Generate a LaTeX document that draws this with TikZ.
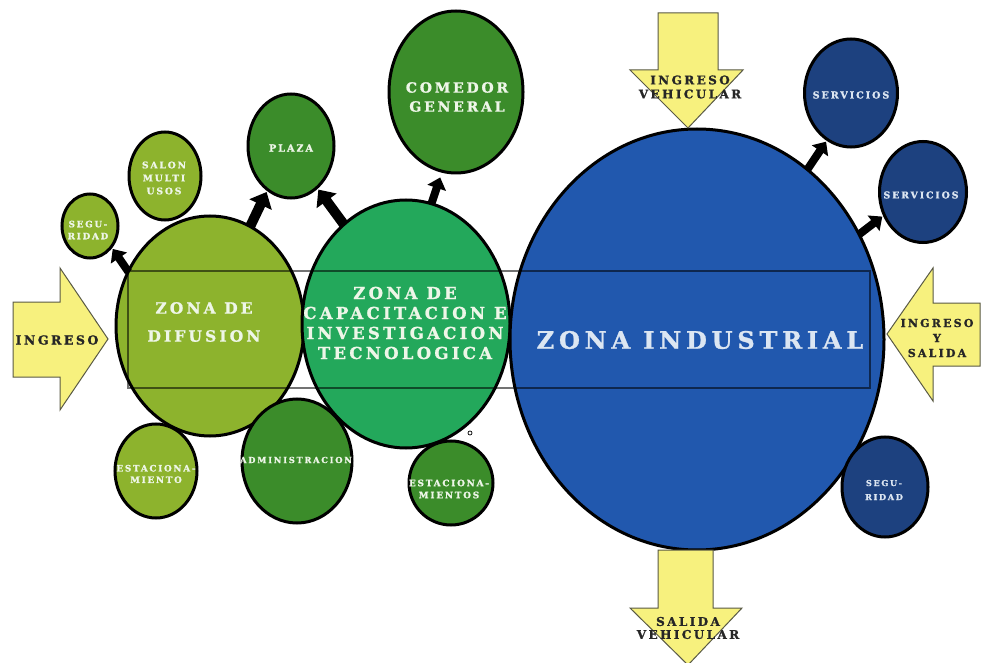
\documentclass[tikz,border=0pt]{standalone}
\usepackage{fontspec}
\setmainfont{DejaVu Serif}
\newfontfamily\zf{DejaVu Serif Bold}[LetterSpace=20, FakeBold=1.2]
\usetikzlibrary{arrows.meta,shapes.geometric}
\definecolor{lgreen}{HTML}{8DB32D}
\definecolor{mgreen}{HTML}{23A85B}
\definecolor{dgreen}{HTML}{3B8C2A}
\definecolor{blueI}{HTML}{2158AE}
\definecolor{navy}{HTML}{1D417F}
\definecolor{yel}{HTML}{F7F17E}
\definecolor{yelline}{HTML}{5A5A45}
\definecolor{txtw}{HTML}{EEF6E8}
\definecolor{txtb}{HTML}{DCE6F2}
\begin{document}
\begin{tikzpicture}[x=1pt,y=-1pt,
  zone/.style={ellipse, draw=black, line width=3pt, inner sep=0pt},
  lbl/.style={text=txtw, align=center, inner sep=0pt},
  albl/.style={text=black!85, align=center, inner sep=0pt},
  blk/.style={line width=10pt, -{Triangle[width=24pt,length=14pt]}, shorten >=1pt, shorten <=-2pt},
  sblk/.style={line width=8pt, -{Triangle[width=19pt,length=11pt]}, shorten >=1pt, shorten <=-2pt},
  yarrow/.style={fill=yel, draw=yelline, line width=1pt, line join=miter}
]
\useasboundingbox (0,0) rectangle (983,663);
\fill[white] (0,0) rectangle (983,663);

% main zones
\node[zone, fill=lgreen, minimum width=188pt, minimum height=220pt] (dif) at (210,326) {};
\node[zone, fill=mgreen, minimum width=208pt, minimum height=248pt] (cap) at (406,324) {};
\node[zone, fill=blueI, minimum width=374pt, minimum height=421pt] (ind) at (697,339.5) {};

% band
\node[draw=black, draw opacity=0.55, line width=2.5pt, minimum width=742pt, minimum height=117pt, inner sep=0pt] (band) at (499,329.5) {};

% satellites
\node[zone, fill=lgreen, minimum width=56pt, minimum height=64pt] (seg1) at (90,226) {};
\node[zone, fill=lgreen, minimum width=72pt, minimum height=88pt] (salon) at (165,176) {};
\node[zone, fill=dgreen, minimum width=86pt, minimum height=104pt] (plaza) at (291,146) {};
\node[zone, fill=dgreen, minimum width=134pt, minimum height=162pt] (comedor) at (456,92) {};
\node[zone, fill=dgreen, minimum width=110pt, minimum height=124pt] (adm) at (297,461) {};
\node[zone, fill=lgreen, minimum width=82pt, minimum height=94pt] (est1) at (156,471) {};
\node[zone, fill=dgreen, minimum width=84pt, minimum height=84pt] (est2) at (451,483) {};
\node[zone, fill=navy, minimum width=93pt, minimum height=108pt] (serv1) at (851,93) {};
\node[zone, fill=navy, minimum width=87pt, minimum height=101pt] (serv2) at (923,192) {};
\node[zone, fill=navy, minimum width=86pt, minimum height=100pt] (seg2) at (885,487) {};

\node[circle, draw=black, line width=0.7pt, inner sep=0pt, minimum size=4pt] (dot) at (470,433) {};

% black arrows
\draw[sblk] (dif.146) -- (seg1.-45);
\draw[blk] (dif.68) -- (plaza.-118);
\draw[blk] (cap.122) -- (plaza.-58);
\draw[sblk, shorten >=5pt] (cap.78) -- (comedor.-100);
\draw[sblk] (ind.57) -- (serv1.-117);
\draw[sblk] (ind.33) -- (serv2.-149);

% yellow arrows
\draw[yarrow] (13,302) -- (60,302) -- (60,268) -- (108,339) -- (60,410) -- (60,377) -- (13,377) -- cycle;
\draw[yarrow] (980,303) -- (933,303) -- (933,268) -- (887,334) -- (933,401) -- (933,366) -- (980,366) -- cycle;
\draw[yarrow] (658,13) -- (718,13) -- (718,70) -- (743,70) -- (688,128) -- (630,70) -- (658,70) -- cycle;
\draw[yarrow] (658,550) -- (713,550) -- (713,608) -- (742,608) -- (688,665) -- (630,608) -- (658,608) -- cycle;

% labels
\node[albl, font=\zf\fontsize{12.5}{14}\selectfont] (tIng) at (57,340) {INGRESO};
\node[albl, font=\zf\fontsize{11}{15}\selectfont] (tIngS) at (937,338) {INGRESO\\Y\\SALIDA};
\node[albl, font=\zf\fontsize{12}{14}\selectfont] (tIngV) at (690,87) {INGRESO\\VEHICULAR};
\node[albl, font=\zf\fontsize{12}{13}\selectfont] (tSalV) at (688,628) {SALIDA\\VEHICULAR};

\node[lbl, font=\zf\fontsize{15.5}{28}\selectfont] (tdif) at (204,322) {ZONA DE\\DIFUSION};
\node[lbl, font=\zf\fontsize{16.5}{20}\selectfont] (tcap) at (405,323) {ZONA DE\\CAPACITACION E\\INVESTIGACION\\TECNOLOGICA};
\node[lbl, text=txtb, font=\zf\fontsize{24}{26}\selectfont] (tind) at (700,340) {ZONA INDUSTRIAL};

\node[lbl, font=\zf\fontsize{8.8}{12}\selectfont] (tseg1) at (88,230) {SEGU-\\RIDAD};
\node[lbl, font=\zf\fontsize{9.2}{13}\selectfont] (tsalon) at (164,178) {SALON\\MULTI\\USOS};
\node[lbl, font=\zf\fontsize{9.7}{12}\selectfont] (tplaza) at (291,148) {PLAZA};
\node[lbl, font=\zf\fontsize{14}{19}\selectfont] (tcom) at (457,97) {COMEDOR\\GENERAL};
\node[lbl, font=\zf\fontsize{8.4}{12}\selectfont] (tadm) at (296,460) {ADMINISTRACION};
\node[lbl, font=\zf\fontsize{8.8}{11.5}\selectfont] (test1) at (156,474) {ESTACIONA-\\MIENTO};
\node[lbl, font=\zf\fontsize{8.9}{12}\selectfont] (test2) at (449,489) {ESTACIONA-\\MIENTOS};
\node[lbl, text=txtb, font=\zf\fontsize{9.6}{12}\selectfont] (tserv1) at (851,95) {SERVICIOS};
\node[lbl, text=txtb, font=\zf\fontsize{9.4}{12}\selectfont] (tserv2) at (921,195) {SERVICIOS};
\node[lbl, text=txtb, font=\zf\fontsize{8.2}{14}\selectfont] (tseg2) at (884,490) {SEGU-\\RIDAD};
\end{tikzpicture}
\end{document}
